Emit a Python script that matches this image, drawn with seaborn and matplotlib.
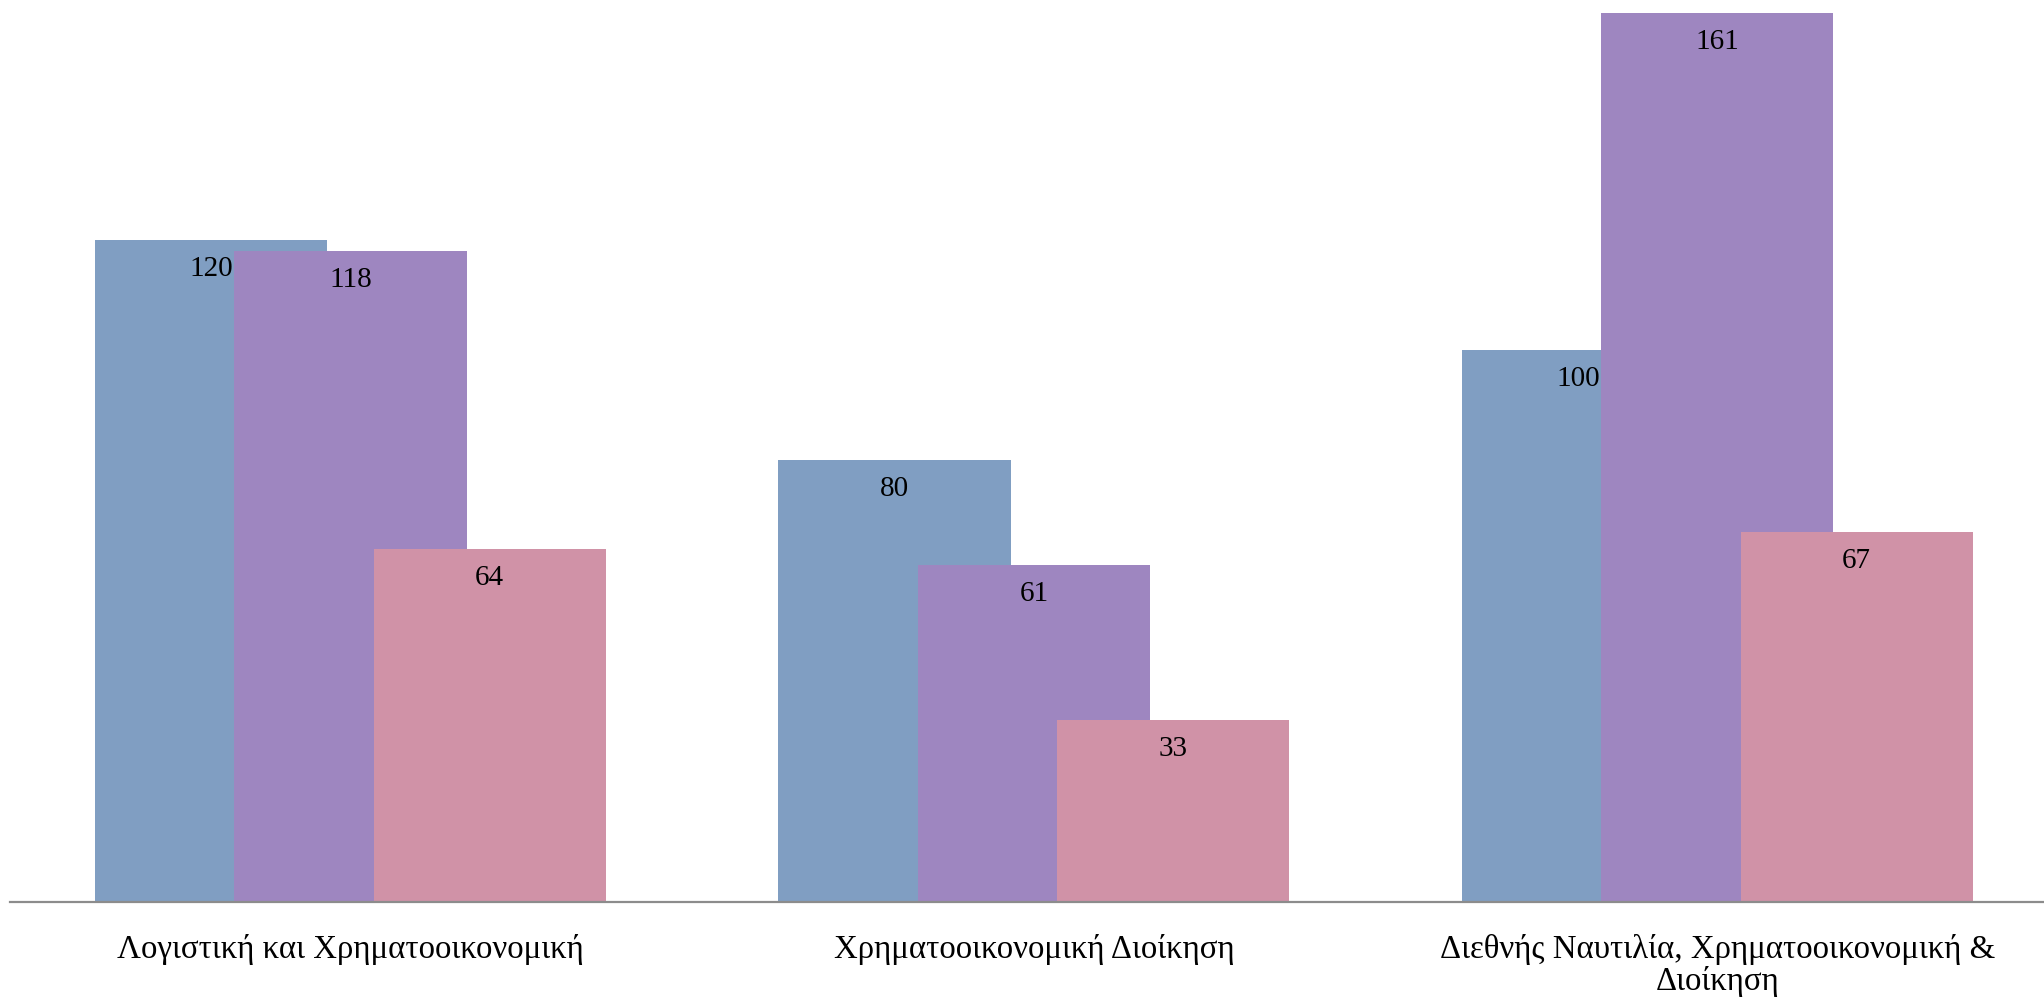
import matplotlib
matplotlib.use("Agg")
import numpy as np
import pandas as pd
import seaborn as sns
import matplotlib.pyplot as plt

# categories (x axis) and the three series
categories = [
    "Λογιστική και Χρηματοοικονομική",
    "Χρηματοοικονομική Διοίκηση",
    "Διεθνής Ναυτιλία, Χρηματοοικονομική &\nΔιοίκηση",
]
series_names = ["Σειρά 1", "Σειρά 2", "Σειρά 3"]
series_1 = [120, 80, 100]
series_2 = [118, 61, 161]
series_3 = [64, 33, 67]
colors = ["#809EC2", "#9E86C0", "#D092A7"]

sns.set_style("white")
plt.rcParams["font.family"] = ["Liberation Serif", "DejaVu Serif"]

fig = plt.figure(figsize=(20.44, 9.98), dpi=100)
ax = fig.add_axes([10 / 2044, 96 / 998, 1 - 10 / 2044, 902 / 998])

pos = np.arange(len(categories))
offset = 0.204
for i, (name, vals) in enumerate(zip(series_names, [series_1, series_2, series_3])):
    df = pd.DataFrame({"x": pos + (i - 1) * offset, "value": vals})
    sns.barplot(data=df, x="x", y="value", native_scale=True, width=0.34,
                color=colors[i], saturation=1, ax=ax, linewidth=0)

# value labels just inside the top of every bar
for cont in ax.containers:
    for bar in cont:
        h = bar.get_height()
        ax.annotate(f"{h:.0f}", (bar.get_x() + bar.get_width() / 2, h),
                    xytext=(0, -29), textcoords="offset pixels",
                    ha="center", va="center", fontsize=21, color="black")

ax.set_xlim(-0.498, 2.478)
ax.set_ylim(0, 163.4)
ax.set_xticks(pos)
ax.set_xticklabels(categories, fontsize=23.7, linespacing=1.05, color="black")
ax.tick_params(axis="x", length=0, pad=23)
ax.set_yticks([])
ax.set_xlabel("")
ax.set_ylabel("")
for s in ["top", "right", "left"]:
    ax.spines[s].set_visible(False)
ax.spines["bottom"].set_color("#8C8C8C")
ax.spines["bottom"].set_linewidth(1.6)

fig.savefig("out.png", dpi=100, facecolor="white")
